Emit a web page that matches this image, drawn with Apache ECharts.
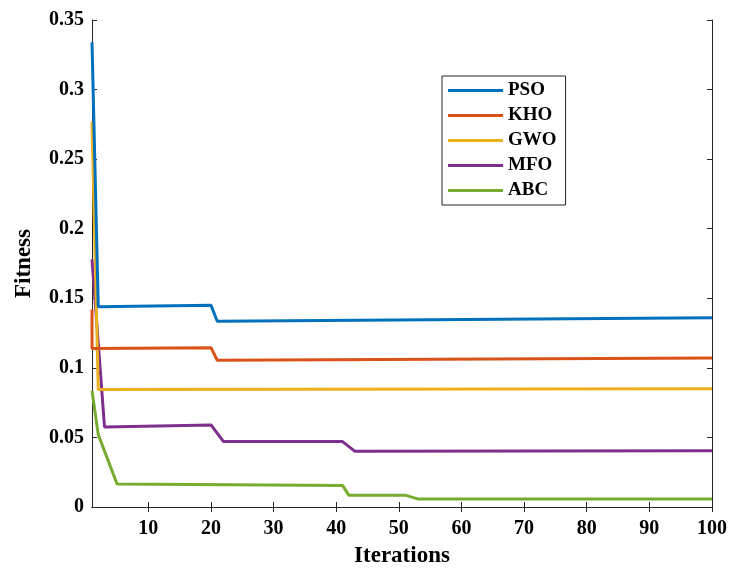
<!DOCTYPE html>
<html>
<head>
<meta charset="utf-8">
<script src="https://cdn.jsdelivr.net/npm/echarts@6/dist/echarts.min.js"></script>
<style>
html,body{margin:0;padding:0;background:#fff;}
#chart{width:731px;height:573px;}
</style>
</head>
<body>
<div id="chart"></div>
<script>
// Data (iteration, fitness) key points
const seriesNames = ['PSO', 'KHO', 'GWO', 'MFO', 'ABC'];
const psoIter = [1, 2, 20, 21, 100];
const psoFit  = [0.334, 0.144, 0.145, 0.1335, 0.136];
const khoIter = [1, 1, 20, 21, 100];
const khoFit  = [0.142, 0.114, 0.1145, 0.1055, 0.107];
const gwoIter = [1, 2, 100];
const gwoFit  = [0.277, 0.0845, 0.085];
const mfoIter = [1, 3, 20, 22, 41, 43, 100];
const mfoFit  = [0.178, 0.0575, 0.059, 0.047, 0.047, 0.0400, 0.0404];
const abcIter = [1, 2, 5, 41, 42, 51, 53, 100];
const abcFit  = [0.0835, 0.052, 0.0165, 0.0155, 0.0085, 0.0085, 0.0058, 0.0058];
const xTicks = [10, 20, 30, 40, 50, 60, 70, 80, 90, 100];

const colors = ['#0072BD', '#D95319', '#EDB120', '#7E2F8E', '#77AC30'];
const iters = [psoIter, khoIter, gwoIter, mfoIter, abcIter];
const fits = [psoFit, khoFit, gwoFit, mfoFit, abcFit];

const font = "'Liberation Serif', 'Times New Roman', serif";
const axisColor = '#262626';

const chart = echarts.init(document.getElementById('chart'));
const series = seriesNames.map((name, i) => ({
  name: name,
  type: 'line',
  xAxisIndex: 0,
  yAxisIndex: 0,
  data: iters[i].map((x, k) => [x, fits[i][k]]),
  showSymbol: false,
  symbol: 'none',
  lineStyle: { width: 3, color: colors[i] },
  itemStyle: { color: colors[i] },
  z: 10 - i,
  animation: false
}));

const xCommon = {
  type: 'value', min: 1, max: 100,
  axisLine: { show: true, lineStyle: { color: axisColor, width: 1 } },
  splitLine: { show: false },
  axisTick: { show: true, inside: true, length: 5, customValues: xTicks, lineStyle: { color: axisColor } }
};
const yCommon = {
  type: 'value', min: 0, max: 0.35, interval: 0.05,
  axisLine: { show: true, lineStyle: { color: axisColor, width: 1 } },
  splitLine: { show: false },
  axisTick: { show: true, inside: true, length: 5, lineStyle: { color: axisColor } }
};

chart.setOption({
  backgroundColor: '#fff',
  animation: false,
  grid: { left: 92, right: 19, top: 20, bottom: 65, containLabel: false },
  legend: {
    data: seriesNames,
    orient: 'vertical',
    left: 442, top: 76,
    icon: 'rect',
    itemWidth: 55, itemHeight: 3,
    itemGap: 6,
    padding: [5, 9, 5, 6],
    borderColor: '#262626', borderWidth: 1,
    backgroundColor: '#fff',
    textStyle: { fontFamily: font, fontWeight: 'bold', fontSize: 19, color: '#000', padding: [0, 0, 0, 0] },
    itemStyle: { borderWidth: 0 }
  },
  xAxis: [
    Object.assign({}, xCommon, {
      position: 'bottom',
      name: 'Iterations', nameLocation: 'middle', nameGap: 38,
      nameTextStyle: { fontFamily: font, fontWeight: 'bold', fontSize: 23, color: '#000' },
      axisLabel: { show: true, customValues: xTicks, margin: 12, fontFamily: font, fontWeight: 'bold', fontSize: 20, color: '#000' }
    }),
    Object.assign({}, xCommon, { position: 'top', axisLabel: { show: false } })
  ],
  yAxis: [
    Object.assign({}, yCommon, {
      position: 'left',
      name: 'Fitness', nameLocation: 'middle', nameGap: 56,
      nameTextStyle: { fontFamily: font, fontWeight: 'bold', fontSize: 23, color: '#000' },
      axisLabel: { show: true, margin: 8, fontFamily: font, fontWeight: 'bold', fontSize: 20, color: '#000' }
    }),
    Object.assign({}, yCommon, { position: 'right', axisLabel: { show: false } })
  ],
  series: series
});
</script>
</body>
</html>
